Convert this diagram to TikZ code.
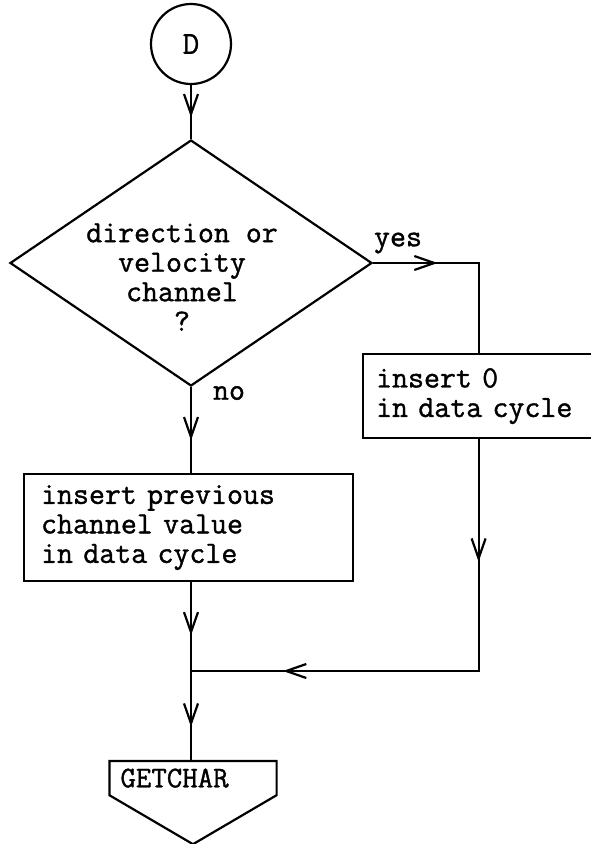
\documentclass[tikz,border=0pt]{standalone}
\usepackage{fontspec}
\usetikzlibrary{shapes.geometric,arrows.meta,decorations.markings,calc}
\newfontfamily\typer{Latin Modern Mono}[FakeBold=1.2]

\begin{document}
\begin{tikzpicture}[x=1pt, y=-1pt, line width=2.2pt,
    >={Straight Barb[length=20pt,width=14pt]},
    every node/.style={font=\fontsize{31}{29.5}\selectfont\typer},
    box/.style={draw, rectangle, align=left, inner xsep=#1, inner ysep=0pt, anchor=north west},
    flowto/.style={decoration={markings, mark=at position #1 with {\arrow{>}}}, postaction={decorate}},
    flowtwo/.style 2 args={decoration={markings, mark=at position #1 with {\arrow{>}},
        mark=at position #2 with {\arrow{>}}}, postaction={decorate}}]
    \useasboundingbox (0,0) rectangle (591,844);

    % ==== ENTRY AND TEST ====
    \node[draw, circle, minimum size=80pt, inner sep=0pt,
          font=\fontsize{32}{32}\selectfont\typer] (start) at (191,44) {D};
    \node[draw, diamond, minimum width=362pt, minimum height=246pt, inner sep=0pt] (decision) at (191,263) {};
    \node[align=center] (question) at (182,277) {direction or\\velocity\\channel\\?};
    \node (yes) at (398,243) {yes};
    \node (no) at (229,393) {no};

    % ==== THE TWO BRANCHES ====
    \node[box=13pt, text width=205pt, minimum height=84pt] (zero) at (362,353) {insert 0\\in data cycle};
    \node[box=17pt, text width=295pt, minimum height=107pt] (previous) at (23,473)
        {insert previous\\channel value\\in data cycle};

    % ==== EXIT ====
    \node[anchor=north, minimum width=165pt, minimum height=32pt, text width=145pt,
          inner xsep=10pt, align=left, font=\fontsize{30}{30}\selectfont\typer] (getchar) at (193,761) {GETCHAR};
    \draw (getchar.north west) -- (getchar.north east) -- (getchar.south east)
        -- ($(getchar.south)+(0,49)$) -- (getchar.south west) -- cycle;

    \coordinate (corner) at (decision.east -| zero.north);
    \coordinate (join) at (decision.south |- 0,671);

    % ==== FLOW LINES ====
    \draw[flowto=0.6] (start) -- (decision);
    \draw[flowto=0.33] (decision.east) -- (corner) -- (zero.north);
    \draw[flowto=0.62] (decision.south) -- (decision.south |- previous.north);
    \draw[flowtwo={0.236}{0.823}] (zero.south) -- (zero.south |- join) -- (join);
    \draw[flowto=0.6] (join |- previous.south) -- (join);
    \draw[flowto=0.62] (join) -- (join |- getchar.north);
\end{tikzpicture}
\end{document}
